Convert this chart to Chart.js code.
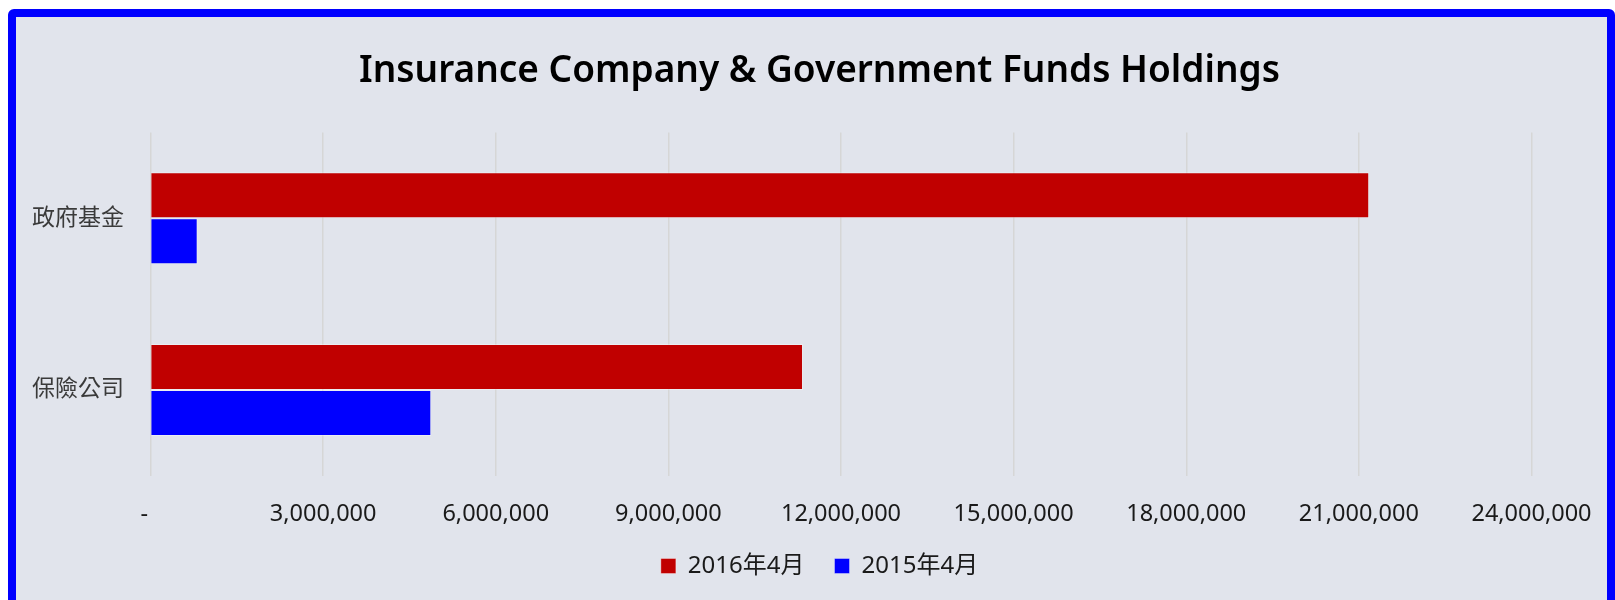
<!DOCTYPE html>
<html>
<head>
<meta charset="utf-8">
<title>Insurance Company &amp; Government Funds Holdings</title>
<script src="https://cdn.jsdelivr.net/npm/chart.js@4.4.1/dist/chart.umd.min.js"></script>
<style>
  html, body { margin: 0; padding: 0; background: #ffffff; overflow: hidden; }
  .frame {
    position: absolute;
    left: 8px;
    top: 9px;
    width: 1607px;
    height: 600px;
    box-sizing: border-box;
    border: 8px solid #0000ff;
    border-top-left-radius: 6px;
    border-top-right-radius: 6px;
    background: #e1e4ec;
  }
  canvas { display: block; }
</style>
</head>
<body>
<div class="frame">
  <canvas id="holdingsChart" width="1591" height="583"></canvas>
</div>
<script>
// holders and the two reporting months
const holders   = ['政府基金', '保險公司'];
const months    = ['2016年4月', '2015年4月'];
const apr2016   = [21180000, 11340000];
const apr2015   = [820000, 4880000];
const xTicksMax = 24000000;
const xStep     = 3000000;

const FONT = '"Noto Sans", "Noto Sans CJK TC", sans-serif';

const ctx = document.getElementById('holdingsChart').getContext('2d');

new Chart(ctx, {
    type: 'bar',
    data: {
        labels: holders,
        datasets: [
            {
                label          : months[0],
                data           : apr2016,
                backgroundColor: '#c00000',
                borderColor    : 'rgba(255,255,255,0.35)',
                borderWidth    : 1
            },
            {
                label          : months[1],
                data           : apr2015,
                backgroundColor: '#0000ff',
                borderColor    : 'rgba(255,255,255,0.35)',
                borderWidth    : 1
            }
        ]
    },
    options: {
        indexAxis         : 'y',
        responsive        : false,
        devicePixelRatio  : 1,
        animation         : false,
        categoryPercentage: 0.535,
        barPercentage     : 1.0,
        layout: {
            padding: { left: 16, right: 0, top: 0, bottom: 12 }
        },
        scales: {
            x: {
                min: 0,
                max: xTicksMax,
                ticks: {
                    stepSize: xStep,
                    padding : 24,
                    color   : '#1a1a1a',
                    font    : { family: FONT, size: 23.5 },
                    callback: (v) => v === 0 ? '-  ' : v.toLocaleString('en-US')
                },
                grid  : { color: '#d6d6d6', lineWidth: 1.5, drawTicks: false },
                border: { display: false },
                // tick padding is only wanted above the labels, and the plot keeps a right margin
                afterFit: (scale) => {
                    scale.height -= scale.options.ticks.padding + 4;
                    scale.paddingRight = 75.5;
                }
            },
            y: {
                ticks: {
                    padding: 26.5,
                    color  : '#3a3a3a',
                    font   : { family: FONT, size: 23 }
                },
                grid  : { display: false, drawTicks: false },
                border: { display: false },
                afterFit: (scale) => { scale.width -= scale.options.ticks.padding; }
            }
        },
        plugins: {
            title: {
                display: true,
                text   : 'Insurance Company & Government Funds Holdings',
                color  : '#000000',
                font   : { family: FONT, size: 37, weight: '600' },
                padding: { top: 32, bottom: 39 }
            },
            legend: {
                position: 'bottom',
                labels: {
                    boxWidth : 15,
                    boxHeight: 15,
                    padding  : 30,
                    color    : '#1a1a1a',
                    font     : { family: FONT, size: 24 }
                }
            },
            tooltip: { enabled: false }
        }
    }
});
</script>
</body>
</html>
